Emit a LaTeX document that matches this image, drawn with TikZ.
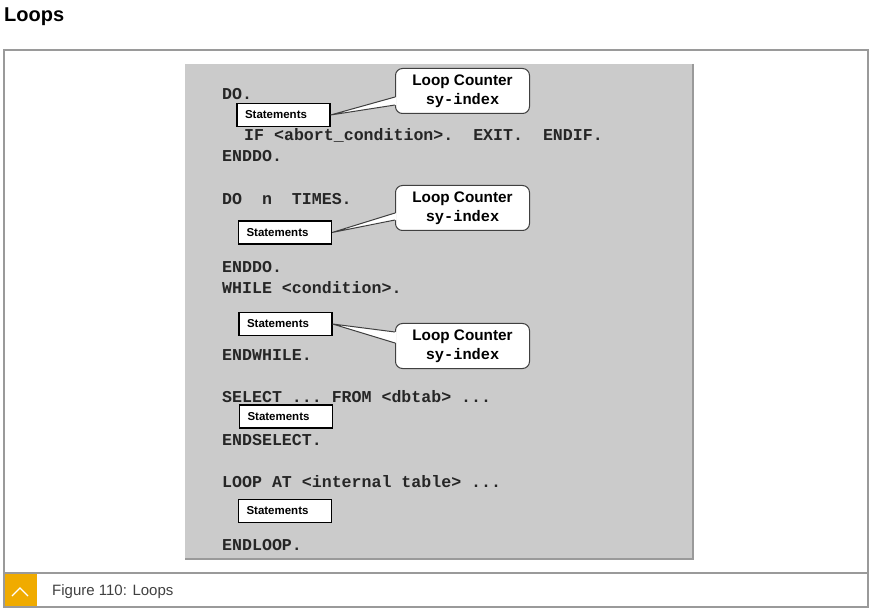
\documentclass[tikz,border=0pt]{standalone}
\usepackage{fontspec}
\setmainfont{Liberation Sans}
\setmonofont{Liberation Mono}
\usetikzlibrary{calc}
\definecolor{panelgray}{HTML}{CBCBCB}
\definecolor{framegray}{HTML}{9A9A9A}
\definecolor{sapgold}{HTML}{F0AB00}
\tikzstyle{code} = [anchor=base west, inner sep=0pt, font=\fontsize{16.6}{18}\ttfamily\bfseries, text=black!85]
\tikzstyle{stmts} = [rectangle, draw=black, line width=1.2pt, fill=white, minimum height=23pt, text width=77pt, inner xsep=8pt, inner ysep=0pt, align=left, font=\fontsize{11.5}{12}\selectfont\bfseries]
\tikzstyle{counter} = [rectangle, rounded corners=7pt, draw=black!75, line width=1pt, fill=white, minimum width=134pt, minimum height=45pt, align=center, font=\fontsize{15.3}{19}\selectfont\bfseries]
\tikzstyle{wedge} = [draw=black!75, line width=1pt]

\begin{document}
\begin{tikzpicture}[x=1pt, y=-1pt]
	\useasboundingbox (0,0) rectangle (872,609);

	% heading and figure frame
	\node (title) [anchor=base west, inner sep=0pt, font=\fontsize{20}{24}\selectfont\bfseries] at (4,22) {Loops};
	\draw [framegray, line width=1.5pt] (4,50) rectangle (868,607);
	\draw [framegray, line width=1.5pt] (4,573) -- (868,573);
	\fill [sapgold] (5,574) rectangle (37,606);
	\draw [white, line width=1.2pt] (12,596) -- (20,588) -- (28,596);
	\node (caption) [anchor=base west, inner sep=0pt, font=\fontsize{15}{18}\selectfont, text=black!75] at (52,595) {Figure 110: Loops};

	% grey slide
	\fill [panelgray] (185,64) rectangle (693,559);
	\draw [framegray, line width=1.2pt] (693,64) -- (693,559) -- (185,559);

	% DO
	\node (do) [code] at (222,100) {DO.};
	\node (s1) [stmts] at (283.5,115) {Statements};
	\node (ifexit) [code] at (244,141) {IF <abort\_condition>.~~EXIT.~~ENDIF.};
	\node (enddo) [code] at (222,162) {ENDDO.};

	% DO n TIMES
	\node (dotimes) [code] at (222,205) {DO~~n~~TIMES.};
	\node (s2) [stmts] at (285,232.5) {Statements};
	\node (enddotimes) [code] at (222,273) {ENDDO.};

	% WHILE
	\node (while) [code] at (222,294) {WHILE <condition>.};
	\node (s3) [stmts] at (285.5,324) {Statements};
	\node (endwhile) [code] at (222,360) {ENDWHILE.};

	% SELECT
	\node (select) [code] at (222,402) {SELECT ... FROM <dbtab> ...};
	\node (s4) [stmts] at (286,416.5) {Statements};
	\node (endselect) [code] at (222,445) {ENDSELECT.};

	% LOOP AT
	\node (loopat) [code] at (222,487) {LOOP AT <internal table> ...};
	\node (s5) [stmts] at (285,511) {Statements};
	\node (endloop) [code] at (222,550) {ENDLOOP.};

	% loop counter callouts
	\node (lc1) [counter] at (462.5,91) {Loop Counter\\{\ttfamily sy-index}};
	\node (lc2) [counter] at (462.5,208) {Loop Counter\\{\ttfamily sy-index}};
	\node (lc3) [counter] at (462.5,346) {Loop Counter\\{\ttfamily sy-index}};

	\fill [white] (s1.east) -- ($(lc1.west)+(1.5,6)$) -- ($(lc1.west)+(1.5,14)$) -- cycle;
	\draw [wedge] ($(lc1.west)+(0,6)$) -- (s1.east) -- ($(lc1.west)+(0,14)$);

	\fill [white] (s2.east) -- ($(lc2.west)+(1.5,5)$) -- ($(lc2.west)+(1.5,12)$) -- cycle;
	\draw [wedge] ($(lc2.west)+(0,5)$) -- (s2.east) -- ($(lc2.west)+(0,12)$);

	\fill [white] (s3.east) -- ($(lc3.west)+(1.5,-14)$) -- ($(lc3.west)+(1.5,-3)$) -- cycle;
	\draw [wedge] ($(lc3.west)+(0,-14)$) -- (s3.east) -- ($(lc3.west)+(0,-3)$);
\end{tikzpicture}
\end{document}
